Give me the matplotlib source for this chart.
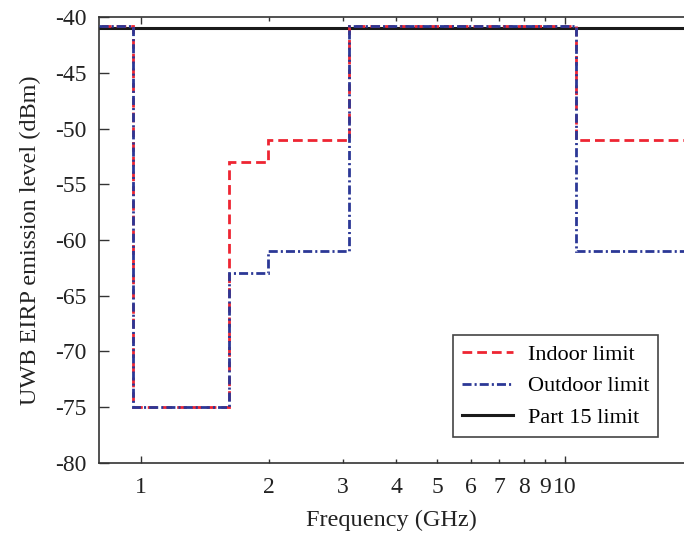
import matplotlib
matplotlib.use("Agg")
import matplotlib.pyplot as plt
from matplotlib.ticker import FixedLocator, FixedFormatter

# FCC UWB emission masks: band edges in GHz and EIRP levels in dBm per band
band_edges = [0.5, 0.96, 1.61, 1.99, 3.1, 10.6, 30.0]
indoor_limit = [-40.8, -75, -53, -51, -40.8, -51]
outdoor_limit = [-40.8, -75, -63, -61, -40.8, -61]
part15_freq = [0.5, 30.0]
part15_limit = [-41, -41]

major_ticks = [1, 10]
minor_ticks = [2, 3, 4, 5, 6, 7, 8, 9]
y_ticks = [-80, -75, -70, -65, -60, -55, -50, -45, -40]

plt.rcParams["font.family"] = ["Liberation Serif", "DejaVu Serif"]
plt.rcParams["axes.unicode_minus"] = False
plt.rcParams["lines.scale_dashes"] = False

fig = plt.figure(figsize=(6.84, 5.34), dpi=100)
ax = fig.add_axes([0.1447, 0.1335, 0.8553, 0.8341])

ax.plot(part15_freq, part15_limit, color="#1a1a1a", lw=2.2, label="Part 15 limit", zorder=2)
ax.stairs(indoor_limit, band_edges, baseline=None, color="#ee2532", lw=2.0,
          linestyle=(0, (7.0, 3.6)), label="Indoor limit", zorder=3)
ax.stairs(outdoor_limit, band_edges, baseline=None, color="#2b3896", lw=2.0,
          linestyle=(0, (6.5, 2.2, 1.5, 2.2)), label="Outdoor limit", zorder=4)

ax.set_xscale("log")
ax.set_xlim(0.796, 19.1)
ax.set_ylim(-80, -40)

ax.xaxis.set_major_locator(FixedLocator(major_ticks))
ax.xaxis.set_major_formatter(FixedFormatter([str(t) for t in major_ticks]))
ax.xaxis.set_minor_locator(FixedLocator(minor_ticks))
ax.xaxis.set_minor_formatter(FixedFormatter([str(t) for t in minor_ticks]))
ax.set_yticks(y_ticks)
ax.set_yticklabels([str(t) for t in y_ticks])

ax.tick_params(axis="x", which="major", direction="in", length=5, width=1, top=True,
               labelsize=17, pad=10, colors="#333333", labelcolor="#222222")
ax.tick_params(axis="x", which="minor", direction="in", length=3, width=1, top=True,
               labelsize=17, pad=10, colors="#333333", labelcolor="#222222")
ax.tick_params(axis="y", which="both", direction="in", length=7, width=1, right=False,
               labelsize=17, pad=9, colors="#333333", labelcolor="#222222")

for side in ["left", "top", "bottom"]:
    ax.spines[side].set_linewidth(1.2)
    ax.spines[side].set_color("#333333")
ax.spines["right"].set_visible(False)

ax.set_xlabel("Frequency (GHz)", fontsize=17.5, color="#222222", labelpad=9)
ax.set_ylabel("UWB EIRP emission level (dBm)", fontsize=17.5, color="#222222", labelpad=10)

handles, labels = ax.get_legend_handles_labels()
order = [labels.index(n) for n in ["Indoor limit", "Outdoor limit", "Part 15 limit"]]
leg = ax.legend([handles[i] for i in order], [labels[i] for i in order],
                loc="lower right", bbox_to_anchor=(0.9556, 0.0577), fontsize=16,
                frameon=True, fancybox=False, edgecolor="#444444", framealpha=1,
                handlelength=2.3, handletextpad=0.65, labelspacing=0.5,
                borderpad=0.4, borderaxespad=0)
leg.get_frame().set_linewidth(1.2)

fig.savefig("out.png", dpi=100)
